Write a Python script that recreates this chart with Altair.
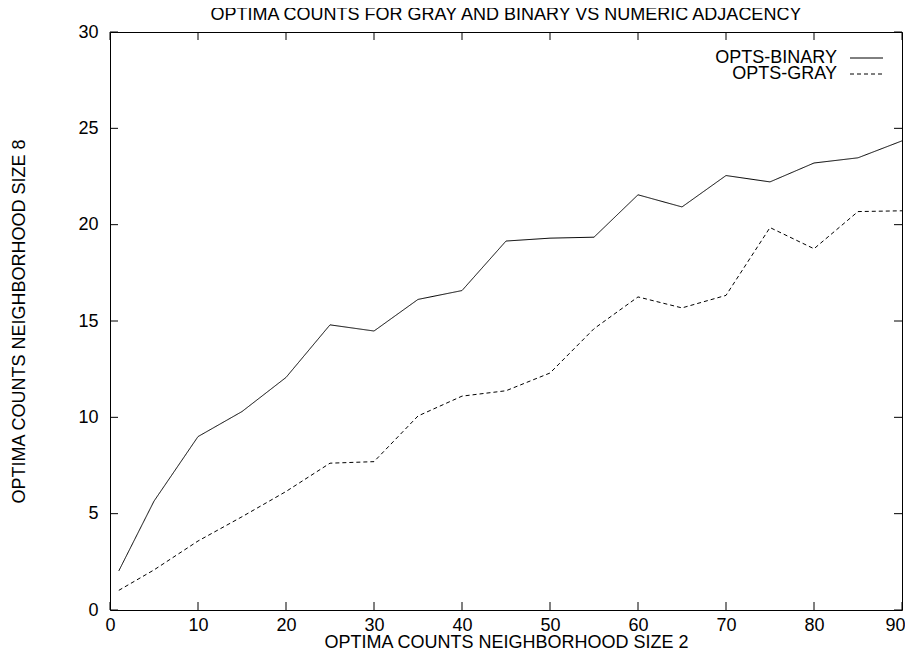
import altair as alt
import pandas as pd

# ---- data ----
x_vals = [1, 5, 10, 15, 20, 25, 30, 35, 40, 45, 50, 55, 60, 65, 70, 75, 80, 85, 90]
opts_binary = [2.03, 5.65, 9.0, 10.3, 12.07, 14.8, 14.48, 16.12, 16.58, 19.15, 19.3, 19.35,
               21.55, 20.92, 22.55, 22.22, 23.2, 23.47, 24.35]
opts_gray = [1.02, 2.08, 3.58, 4.84, 6.15, 7.62, 7.7, 10.07, 11.1, 11.38, 12.3, 14.6,
             16.25, 15.68, 16.33, 19.85, 18.75, 20.68, 20.72]
series_names = ["OPTS-BINARY", "OPTS-GRAY"]
x_ticks = [0, 10, 20, 30, 40, 50, 60, 70, 80, 90]
y_ticks = [0, 5, 10, 15, 20, 25, 30]

title_text = "OPTIMA COUNTS FOR GRAY AND BINARY VS NUMERIC ADJACENCY"
x_title = "OPTIMA COUNTS NEIGHBORHOOD SIZE 2"
y_title = "OPTIMA COUNTS NEIGHBORHOOD SIZE 8"

rows = []
for x, v in zip(x_vals, opts_binary):
    rows.append({"x": x, "y": v, "series": series_names[0]})
for x, v in zip(x_vals, opts_gray):
    rows.append({"x": x, "y": v, "series": series_names[1]})
df = pd.DataFrame(rows)

W, H = 792, 578
FONT = "Liberation Sans"
FS = 18

xscale = alt.Scale(domain=[0, 90], nice=False, zero=False)
yscale = alt.Scale(domain=[0, 30], nice=False, zero=False)
xaxis = alt.Axis(
    values=x_ticks, title=x_title, labelPadding=6, titlePadding=-1,
    labelAlign={"condition": {"test": "datum.value >= 90", "value": "right"}, "value": "center"},
    labelOffset={"condition": {"test": "datum.value >= 90", "value": 3}, "value": 0},
)
yaxis = alt.Axis(values=y_ticks, title=y_title, labelPadding=12, titlePadding=49)
dash_scale = alt.Scale(domain=series_names, range=[[1, 0], [4, 3]])

lines = alt.Chart(df).mark_line(color="black", strokeWidth=1).encode(
    x=alt.X("x:Q", scale=xscale, axis=xaxis),
    y=alt.Y("y:Q", scale=yscale, axis=yaxis),
    strokeDash=alt.StrokeDash("series:N", scale=dash_scale, legend=None),
    detail="series:N",
)

xt = pd.DataFrame({"x": x_ticks})
yt = pd.DataFrame({"y": y_ticks})
TL = 8
x_bot = alt.Chart(xt).mark_rule(color="black").encode(
    x=alt.X("x:Q", scale=xscale, axis=xaxis), y=alt.value(H), y2=alt.value(H - TL))
x_top = alt.Chart(xt).mark_rule(color="black").encode(
    x=alt.X("x:Q", scale=xscale, axis=xaxis), y=alt.value(0), y2=alt.value(TL))
y_left = alt.Chart(yt).mark_rule(color="black").encode(
    y=alt.Y("y:Q", scale=yscale, axis=yaxis), x=alt.value(0), x2=alt.value(TL))
y_right = alt.Chart(yt).mark_rule(color="black").encode(
    y=alt.Y("y:Q", scale=yscale, axis=yaxis), x=alt.value(W), x2=alt.value(W - TL))

# legend (top right, labels left of samples)
leg_df = pd.DataFrame({"series": series_names})
leg_rows_y = [26, 42]
leg_layers = []
for name, yy in zip(series_names, leg_rows_y):
    sub = alt.Chart(leg_df).transform_filter(alt.datum.series == name)
    leg_layers.append(sub.mark_text(
        align="right", baseline="middle", font=FONT, fontSize=FS, color="black"
    ).encode(text="series:N", x=alt.value(727), y=alt.value(yy)))
    leg_layers.append(sub.mark_rule(color="black", strokeWidth=1).encode(
        x=alt.value(740), x2=alt.value(773), y=alt.value(yy),
        strokeDash=alt.StrokeDash("series:N", scale=dash_scale, legend=None)))

chart = alt.layer(lines, x_bot, x_top, y_left, y_right, *leg_layers).properties(
    width=W, height=H,
    background="white",
    title=alt.TitleParams(title_text, font=FONT, fontSize=FS, fontWeight="normal",
                          color="black", anchor="middle", offset=-1),
    autosize=alt.AutoSizeParams(type="none"),
    padding={"left": 102, "top": 24, "right": 3, "bottom": 38},
).configure_view(
    stroke="black", strokeWidth=1
).configure_axis(
    grid=False, domain=False, ticks=False,
    labelFont=FONT, labelFontSize=FS, labelColor="black",
    titleFont=FONT, titleFontSize=FS, titleFontWeight="normal", titleColor="black",
)

chart.save("out.html", embed_options={"renderer": "svg", "actions": False})
